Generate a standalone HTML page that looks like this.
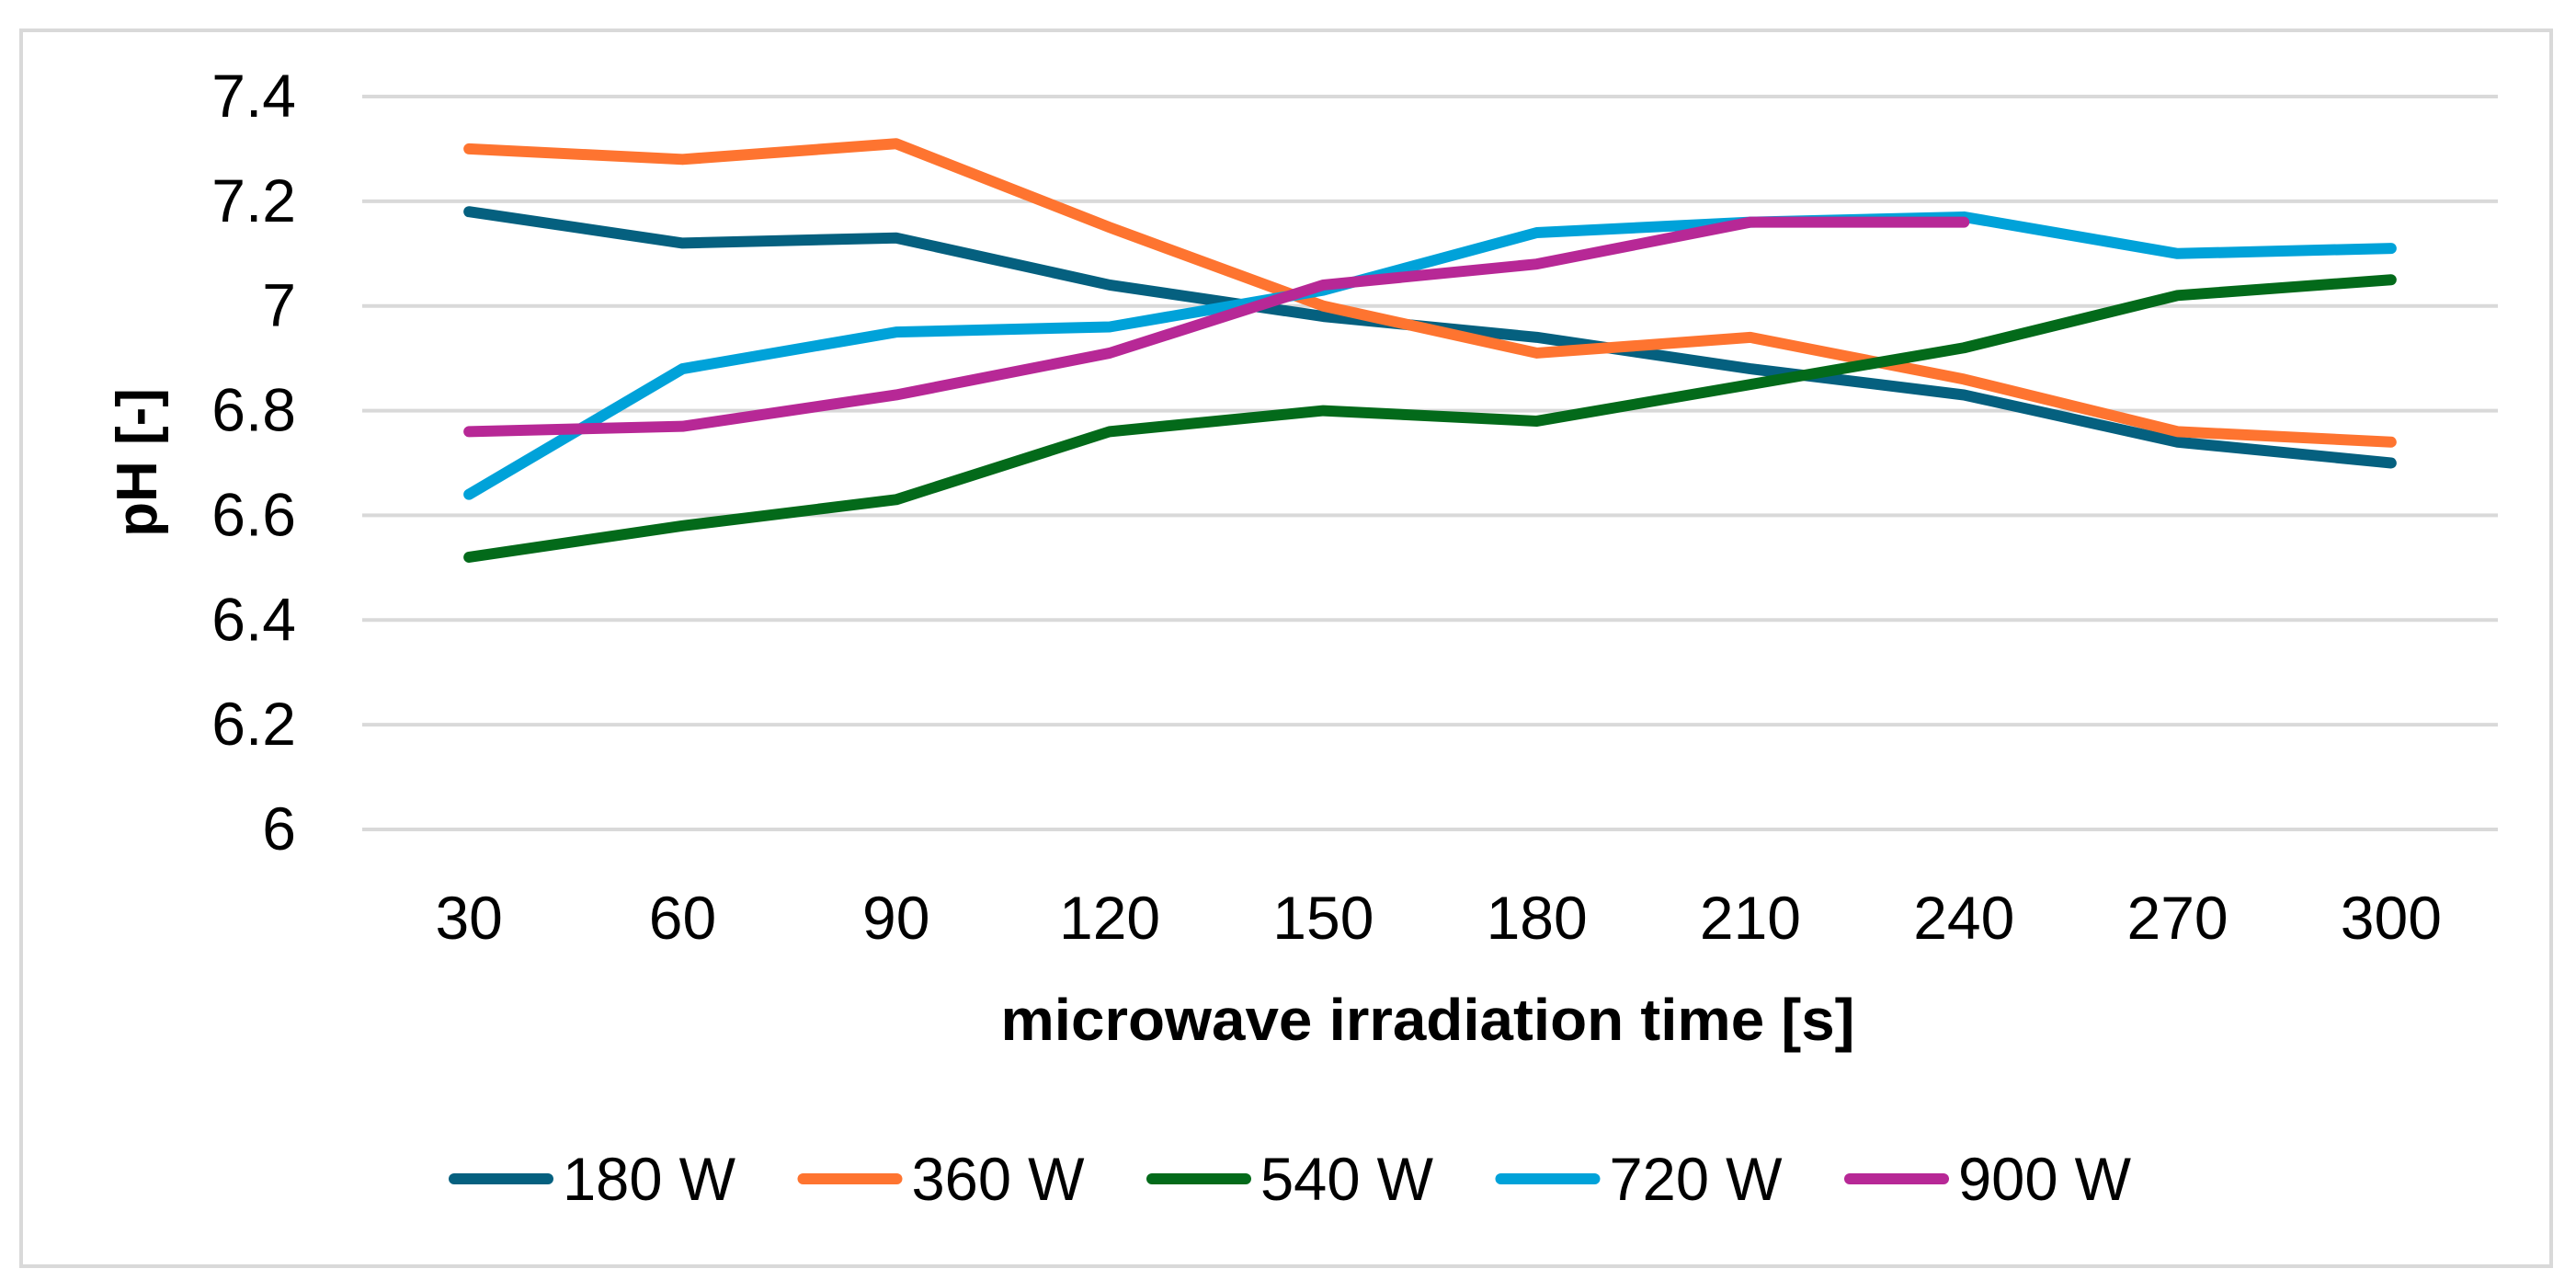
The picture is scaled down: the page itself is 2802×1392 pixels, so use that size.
<!DOCTYPE html>
<html><head><meta charset="utf-8"><style>
html,body{margin:0;padding:0;background:#fff;}
svg{display:block;font-family:"Liberation Sans",sans-serif;}
</style></head><body>
<svg id="chart" width="2802" height="1392" viewBox="0 0 2802 1392" xmlns="http://www.w3.org/2000/svg">
<rect x="23" y="33" width="2752" height="1344" fill="#fff" stroke="#d9d9d9" stroke-width="4"/>
<g id="grid"></g><g id="ylabels"></g><g id="xlabels"></g><g id="series"></g><g id="legend"></g>
<text transform="translate(170,503) rotate(-90)" text-anchor="middle" font-size="62" font-weight="bold" fill="#000">pH [-]</text>
<text x="1553" y="1131" text-anchor="middle" font-size="64" font-weight="bold" fill="#000" textLength="929" lengthAdjust="spacingAndGlyphs">microwave irradiation time [s]</text>
</svg>
<script>
const categories = [30,60,90,120,150,180,210,240,270,300];
const yTicks = [6,6.2,6.4,6.6,6.8,7,7.2,7.4];
const yTickLabels = ["6","6.2","6.4","6.6","6.8","7","7.2","7.4"];
const seriesNames = ["180 W","360 W","540 W","720 W","900 W"];
const s180 = [7.18,7.12,7.13,7.04,6.98,6.94,6.88,6.83,6.74,6.70];
const s360 = [7.30,7.28,7.31,7.15,7.00,6.91,6.94,6.86,6.76,6.74];
const s540 = [6.52,6.58,6.63,6.76,6.80,6.78,6.85,6.92,7.02,7.05];
const s720 = [6.64,6.88,6.95,6.96,7.03,7.14,7.16,7.17,7.10,7.11];
const s900 = [6.76,6.77,6.83,6.91,7.04,7.08,7.16,7.16];

const NS="http://www.w3.org/2000/svg";
const colors=["#05607f","#fe7430","#036a1a","#00a2d9","#b72896"];
const allSeries=[s180,s360,s540,s720,s900];
const PL=394, PR=2717, YTOP=105, YBOT=902, YMIN=6, YMAX=7.4;
const cw=(PR-PL)/categories.length;
function xScale(i){return PL+cw*(i+0.5);}
function yScale(v){return YBOT-(v-YMIN)/(YMAX-YMIN)*(YBOT-YTOP);}
function mk(tag,attrs,parent){const e=document.createElementNS(NS,tag);for(const k in attrs)e.setAttribute(k,attrs[k]);parent.appendChild(e);return e;}
const grid=document.getElementById('grid'), yl=document.getElementById('ylabels'), xl=document.getElementById('xlabels'), sg=document.getElementById('series'), lg=document.getElementById('legend');
yTicks.forEach((t,i)=>{
  const y=yScale(t);
  const l=mk('line',{x1:PL,x2:PR,y1:y,y2:y,stroke:'#d9d9d9','stroke-width':4},grid);
  
  
  const tx=mk('text',{x:322,y:y+22,'text-anchor':'end','font-size':66,fill:'#000'},yl);
  tx.textContent=yTickLabels[i];
  
  
});
categories.forEach((c,i)=>{
  const tx=mk('text',{x:xScale(i),y:1021,'text-anchor':'middle','font-size':66,fill:'#000'},xl);
  tx.textContent=c;
  
  
});
allSeries.forEach((s,k)=>{
  const pts=s.map((v,i)=>xScale(i)+','+yScale(v)).join(' ');
  const p=mk('polyline',{points:pts,fill:'none',stroke:colors[k],'stroke-width':12,'stroke-linecap':'round','stroke-linejoin':'round'},sg);
  
  
});
seriesNames.forEach((n,k)=>{
  const x0=488+k*379.5;
  const l=mk('line',{x1:x0+6,x2:x0+108,y1:1282,y2:1282,stroke:colors[k],'stroke-width':12,'stroke-linecap':'round'},lg);
  
  
  const tx=mk('text',{x:x0+124,y:1305,'font-size':66,fill:'#000',textLength:188,lengthAdjust:'spacingAndGlyphs'},lg);
  tx.textContent=n;
  
  
});
</script>
</body></html>
